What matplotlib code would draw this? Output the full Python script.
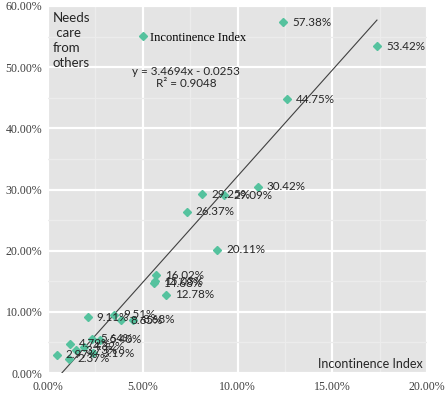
import numpy as np
import matplotlib
matplotlib.use("Agg")
import matplotlib.pyplot as plt
from matplotlib.ticker import MultipleLocator, FuncFormatter

# === DATA (percent) ===
incontinence = [12.40, 17.36, 12.61, 11.08, 8.13, 9.29, 7.33, 8.92,
                5.70, 5.65, 5.60, 6.23, 2.10, 3.50, 3.85, 4.49,
                2.30, 2.75, 1.15, 1.90, 1.50, 2.40, 0.45, 1.10]
needs_care = [57.38, 53.42, 44.75, 30.42, 29.25, 29.09, 26.37, 20.11,
              16.02, 15.03, 14.68, 12.78, 9.11, 9.51, 8.65, 8.68,
              5.64, 5.40, 4.79, 4.32, 3.73, 3.19, 2.97, 2.37]
slope, intercept = 3.4694, -0.0253
r2 = 0.9048

x_ticks = [0, 5, 10, 15, 20]
y_ticks = [0, 10, 20, 30, 40, 50, 60]

# === STYLE ===
point_color = "#55c29e"
panel_bg = "#e4e4e4"
sans = ["Lato", "DejaVu Sans"]
serif = ["Liberation Serif", "DejaVu Serif"]

fig = plt.figure(figsize=(4.47, 3.94), dpi=100)
ax = fig.add_axes([48 / 447, 21 / 394, 379 / 447, 367 / 394])
ax.set_facecolor(panel_bg)

ax.plot(incontinence, needs_care, linestyle="none", marker="D", markersize=4.0,
        color=point_color, label="Incontinence Index", zorder=3)

# trendline over data range
xs = np.linspace(min(incontinence), max(incontinence), 200)
ys = (slope * xs / 100 + intercept) * 100
ax.plot(xs, ys, color="#404040", linewidth=0.8, zorder=2)

# data labels
for xv, yv in zip(incontinence, needs_care):
    ax.annotate(f"{yv:.2f}%", (xv, yv), xytext=(6.5, 0), textcoords="offset points",
                va="center", ha="left", fontsize=8.4, family=sans, color="#262626", zorder=4)

ax.set_xlim(0, 20)
ax.set_ylim(0, 60)
ax.set_xticks(x_ticks)
ax.set_yticks(y_ticks)
ax.xaxis.set_minor_locator(MultipleLocator(2.5))
ax.yaxis.set_minor_locator(MultipleLocator(5))
ax.xaxis.set_major_formatter(FuncFormatter(lambda v, p: f"{v:.2f}%"))
ax.yaxis.set_major_formatter(FuncFormatter(lambda v, p: f"{v:.2f}%"))
for lbl in ax.get_xticklabels() + ax.get_yticklabels():
    lbl.set_family(serif)
    lbl.set_fontsize(8.6)
    lbl.set_color("#404040")
ax.tick_params(which="both", length=0)
ax.tick_params(axis="x", pad=6)
ax.tick_params(axis="y", pad=4)
ax.grid(which="major", color="white", linewidth=1.6)
ax.grid(which="minor", color="#ececec", linewidth=0.9)
ax.set_axisbelow(True)
for s in ax.spines.values():
    s.set_visible(False)

# axis titles inside panel
ax.text(0.013, 0.985, "Needs\n care\nfrom\nothers", transform=ax.transAxes,
        ha="left", va="top", fontsize=9.5, family=sans, color="#262626", linespacing=1.3)
ax.text(0.99, 0.008, "Incontinence Index", transform=ax.transAxes,
        ha="right", va="bottom", fontsize=9, family=sans, color="#262626")

# trendline equation
ax.text(0.364, 0.806, f"y = {slope}x - {abs(intercept)}\nR² = {r2}", transform=ax.transAxes,
        ha="center", va="center", fontsize=8.4, family=sans, color="#262626", linespacing=1.15)

ax.legend(loc="upper left", bbox_to_anchor=(0.234, 0.93), frameon=False,
          prop={"family": serif, "size": 9}, handletextpad=0.1, handlelength=1.0,
          borderaxespad=0, borderpad=0)

fig.savefig("out.png", dpi=100)
